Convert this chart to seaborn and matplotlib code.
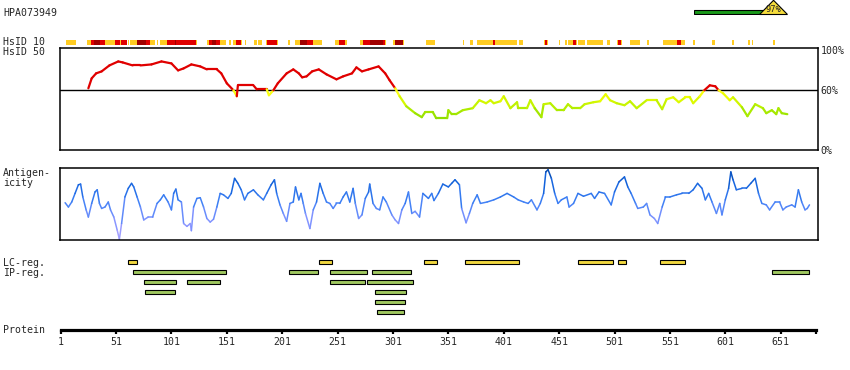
import matplotlib
matplotlib.use("Agg")
import matplotlib.pyplot as plt
import numpy as np
import seaborn as sns
from matplotlib.collections import LineCollection
from matplotlib.colors import LinearSegmentedColormap, Normalize

# ---- data ----
antibody = "HPA073949"
identity_label = "97%"
identity = 97
gauge_len = 84
protein_len = 683

# HsID 10 strip: (start, end, level) 0 = low, 1 = high, 2 = very high
hsid10_start = [6, 25, 28, 31, 36.5, 41, 50, 54.5, 55.5, 62, 63.5, 69.6, 78, 81.6, 88, 90.6, 97, 104, 105.5, 123,
                132.8, 134.6, 137.6, 141, 144.6, 153, 156.6, 159, 164, 167, 175.5, 179.5, 186.5, 187.5, 196.6,
                206.5, 212.5, 217, 223.6, 228.4, 248.6, 252, 257.7, 271.2, 274.2, 280.2, 292.2, 293.5, 301,
                302.5, 309.7, 331, 364, 370.5, 377, 391.5, 393, 415, 437.5, 438.5, 440, 451, 456, 459.3, 463.8,
                466, 468.3, 475.9, 494, 503, 504.5, 506.6, 515, 530.6, 545, 557, 560.7, 572, 588.6, 606.8,
                621.8, 624.8, 644.3]
hsid10_end = [15, 28, 31, 36.5, 41, 50, 54.5, 55.5, 60.5, 63, 69.6, 78, 81.6, 86, 89, 97, 104, 105.5, 123, 124,
              134.6, 137.6, 141, 144.6, 150, 155, 159, 163.8, 165, 168, 178.5, 182.5, 187.5, 196.6, 197.6,
              208, 217, 223.6, 228.4, 236.6, 252, 257.7, 259.8, 274.2, 280.2, 292.2, 293.5, 294.5, 302.5,
              309.7, 311, 339, 365.5, 373.5, 391.5, 393, 412.7, 418.7, 438.5, 440, 441, 452, 458, 463.8, 466,
              467, 474.4, 490.9, 497, 504.5, 506.6, 507.5, 524.4, 532.4, 557, 560.7, 564.6, 573.6, 592, 609,
              623, 626.3, 645.9]
hsid10_level = [0, 0, 1, 2, 1, 0, 1, 0, 1, 0, 0, 2, 1, 0, 0, 0, 1, 2, 1, 0,
                0, 1, 2, 1, 0, 0, 0, 1, 0, 0, 0, 0, 0, 1, 0,
                0, 0, 2, 1, 0, 0, 1, 0, 0, 1, 2, 1, 0, 0,
                2, 0, 0, 0, 0, 0, 1, 0, 0, 0, 1, 0, 0, 0, 0, 1,
                0, 0, 0, 0, 0, 1, 0, 0, 0, 0, 1, 0, 0, 0, 0,
                0, 0, 0]

# HsID 50 similarity (%)
sim_pos = [26, 29, 33, 38, 45, 53, 57, 66, 73, 83, 92, 101, 107, 112, 119, 127, 133, 142, 146, 151, 157, 160,
           161, 175, 178, 187, 189, 193, 197, 205, 211, 216, 219, 223, 228, 234, 241, 250, 256, 264, 268, 273,
           279, 288, 294, 298, 303, 307, 313, 321, 327, 330, 337, 340, 350, 351, 354, 358, 364, 373, 379, 385,
           389, 392, 398, 401, 407, 413, 414, 422, 425, 429, 435, 437, 443, 449, 455, 459, 463, 470, 474, 482,
           488, 493, 497, 503, 510, 515, 521, 530, 539, 544, 548, 554, 559, 565, 569, 572, 578, 582, 587, 592,
           595, 599, 605, 608, 616, 621, 628, 635, 638, 643, 647, 649, 652, 657]
sim_pct = [62, 72, 77, 79, 85, 89, 88, 85, 85, 86, 89, 87, 80, 82, 86, 84, 81, 81, 77, 67, 60, 54,
           65, 65, 61, 61, 55, 60, 67, 77, 81, 77, 73, 74, 79, 81, 76, 71, 74, 77, 83, 79,
           81, 84, 77, 70, 62, 54, 44, 37, 33, 38, 38, 32, 32, 40, 36, 36, 40, 42, 50, 47,
           50, 47, 49, 54, 42, 48, 42, 42, 50, 42, 33, 46, 47, 40, 40, 46, 42, 42, 46, 48,
           49, 56, 50, 47, 45, 49, 42, 50, 50, 41, 51, 53, 48, 53, 53, 47, 54, 60, 65, 64,
           60, 57, 50, 53, 43, 34, 46, 42, 37, 40, 36, 42, 37, 36]

# antigenicity (relative scale 0-100)
ag_pos = [5, 8, 11, 14, 17, 19, 21, 24, 26, 29, 32, 34, 36, 38, 41, 44, 46, 49, 52, 54, 56, 59, 62, 65, 67,
          70, 73, 76, 80, 84, 88, 91, 94, 98, 101, 103, 105, 107, 110, 112, 115, 118, 119, 121, 124, 127, 130,
          133, 136, 139, 142, 145, 148, 152, 155, 158, 161, 164, 167, 170, 175, 179, 184, 187, 191, 194, 196,
          199, 202, 205, 208, 211, 213, 216, 218, 220, 222, 226, 229, 232, 235, 238, 241, 244, 247, 250, 253,
          256, 259, 262, 265, 267, 270, 273, 276, 279, 280, 283, 286, 289, 292, 295, 300, 303, 306, 309, 312,
          315, 318, 321, 325, 328, 333, 336, 338, 342, 346, 351, 354, 357, 361, 363, 367, 370, 373, 377, 380,
          386, 392, 398, 404, 410, 414, 419, 423, 426, 431, 434, 437, 439, 441, 444, 447, 450, 453, 458, 460,
          464, 468, 473, 480, 483, 487, 492, 498, 501, 505, 510, 513, 516, 520, 522, 527, 530, 533, 537, 540,
          544, 547, 551, 557, 562, 568, 572, 576, 580, 583, 586, 589, 593, 596, 598, 601, 604, 606, 608, 611,
          616, 620, 624, 628, 631, 634, 638, 641, 646, 650, 653, 656, 661, 664, 667, 670, 673, 675, 677]
ag_val = [52, 46, 53, 65, 77, 78, 60, 42, 32, 51, 67, 70, 51, 44, 46, 53, 42, 32, 14, 1, 23, 60, 72, 79, 74,
          60, 46, 28, 32, 32, 51, 56, 63, 53, 42, 65, 71, 56, 53, 23, 19, 23, 13, 46, 58, 59, 46,
          30, 25, 29, 46, 65, 63, 58, 65, 86, 79, 70, 56, 65, 70, 63, 56, 65, 77, 84, 65,
          49, 37, 26, 51, 53, 74, 56, 65, 51, 37, 16, 42, 53, 79, 65, 53, 51, 44, 51, 51,
          60, 67, 53, 72, 51, 30, 35, 58, 67, 78, 51, 44, 42, 60, 53, 35, 28, 23, 42, 51,
          67, 37, 40, 32, 65, 58, 65, 55, 65, 78, 74, 79, 84, 77, 44, 24, 37, 51, 63, 51,
          53, 56, 60, 65, 60, 56, 53, 51, 56, 42, 51, 65, 95, 98, 86, 65, 51, 56, 60, 46,
          51, 65, 61, 65, 58, 67, 65, 49, 67, 81, 88, 74, 65, 51, 44, 46, 51, 35, 30, 23,
          46, 60, 60, 63, 65, 65, 70, 79, 72, 56, 65, 53, 37, 51, 35, 56, 72, 95, 84, 70,
          72, 72, 79, 86, 65, 51, 49, 42, 53, 53, 42, 46, 49, 46, 70, 53, 42, 44, 49]

# regions
lc_start = [62, 234, 329, 366, 468, 504, 542]
lc_end = [70, 246, 341, 415, 500, 511, 565]
ip_row = [1, 1, 1, 1, 1, 2, 2, 2, 2, 3, 3, 4, 5]
ip_start = [66, 207, 244, 282, 643, 76, 115, 244, 278, 77, 285, 285, 287]
ip_end = [150, 233, 278, 317, 677, 105, 145, 276, 319, 104, 313, 312, 311]

tick_pos = list(range(1, 652, 50))

# ---- drawing ----
W, H = 850, 370
XLIM = (0.4, 684.7)


def px_axes(fig, x0, y0, x1, y1):
    ax = fig.add_axes([x0 / W, 1 - y1 / H, (x1 - x0) / W, (y1 - y0) / H])
    ax.set_facecolor("none")
    return ax


sns.set_theme(style="white")
plt.rcParams["font.family"] = ["DejaVu Sans Mono"]
plt.rcParams["axes.linewidth"] = 1.1
fs = 7.1

fig = plt.figure(figsize=(W / 100, H / 100), dpi=100)

# header
fig.text(3 / W, 1 - 12.5 / H, antibody, fontsize=fs, va="center", ha="left")
gax = px_axes(fig, 694, 0, 776, 15)
gax.set_xlim(0, 100)
gax.set_ylim(15, 0)
gax.axis("off")
gax.barh(12, gauge_len, left=0, height=4.3, color="#1a9a1a", edgecolor="black", linewidth=0.8)
gax.fill([identity - 17, identity, identity + 17], [14.5, 0.3, 14.5], facecolor="#f5dc3c",
         edgecolor="black", linewidth=0.8, clip_on=False)
gax.text(identity, 9.3, identity_label, fontsize=6.3, ha="center", va="center")

# left labels
for txt, y in [("HsID 10", 42), ("HsID 50", 52), ("Antigen-", 172.5), ("icity", 183.5),
               ("LC-reg.", 263), ("IP-reg.", 273), ("Protein", 330)]:
    fig.text(3 / W, 1 - y / H, txt, fontsize=fs, va="center", ha="left")

# HsID 10 strip
level_colors = ["#ffcc22", "#e00000", "#a00000"]
sax = px_axes(fig, 60, 39.5, 818, 45)
sax.set_xlim(*XLIM)
sax.set_ylim(0, 1)
sax.axis("off")
for s, e, lv in zip(hsid10_start, hsid10_end, hsid10_level):
    sax.barh(0.5, e - s, left=s, height=1, color=level_colors[lv], linewidth=0)

# HsID 50 panel
ax1 = px_axes(fig, 60, 48, 818, 150)
ax1.set_xlim(*XLIM)
ax1.set_ylim(0, 102.5)
ax1.axhline(60, color="black", lw=1.0)
sim_cmap = LinearSegmentedColormap.from_list("sim", [(0, "#88dc00"), (0.45, "#b8f000"), (0.8, "#f0ff00"),
                                                     (1, "#ffff20")])
sim_norm = Normalize(30, 60)
sx = np.array(sim_pos, float)
sy = np.array(sim_pct, float)
pts = np.column_stack([sx, sy])
segs = np.stack([pts[:-1], pts[1:]], axis=1)
mid = (sy[:-1] + sy[1:]) / 2
cols = ["#e00000" if m >= 59 else sim_cmap(sim_norm(m)) for m in mid]
ax1.add_collection(LineCollection(segs, colors=cols, linewidths=1.6, capstyle="round", joinstyle="round"))
ax1.set_xticks([])
ax1.yaxis.tick_right()
ax1.set_yticks([0, 60, 100])
ax1.set_yticklabels(["0%", "60%", "100%"])
ax1.tick_params(axis="y", length=0, pad=2, labelsize=fs)
for sp in ax1.spines.values():
    sp.set_color("black")

# antigenicity panel
ax2 = px_axes(fig, 60, 168.3, 818, 240)
ax2.set_xlim(*XLIM)
ax2.set_ylim(0, 100)
ag_cmap = LinearSegmentedColormap.from_list("ag", [(0, "#b0a4ff"), (0.3, "#7d92ff"), (0.55, "#3d80f5"),
                                                   (0.8, "#1262dc"), (1, "#0444a4")])
ax_ = np.array(ag_pos, float)
ay_ = np.array(ag_val, float)
pts = np.column_stack([ax_, ay_])
segs = np.stack([pts[:-1], pts[1:]], axis=1)
mid = (ay_[:-1] + ay_[1:]) / 2
ax2.add_collection(LineCollection(segs, colors=ag_cmap(mid / 100), linewidths=1.1,
                                  capstyle="round", joinstyle="round"))
ax2.set_xticks([])
ax2.set_yticks([])
for sp in ax2.spines.values():
    sp.set_color("black")

# regions
ax3 = px_axes(fig, 60, 257, 818, 317)
ax3.set_xlim(*XLIM)
ax3.set_ylim(5.5, -0.5)
ax3.axis("off")
for s, e in zip(lc_start, lc_end):
    ax3.barh(0, e - s, left=s, height=0.42, color="#f2d840", edgecolor="black", linewidth=0.8)
for r, s, e in zip(ip_row, ip_start, ip_end):
    ax3.barh(r, e - s, left=s, height=0.42, color="#a0c860", edgecolor="black", linewidth=0.8)

# protein axis
ax4 = px_axes(fig, 60, 318, 818, 329.5)
ax4.set_xlim(*XLIM)
for k in ["top", "left", "right"]:
    ax4.spines[k].set_visible(False)
ax4.spines["bottom"].set_linewidth(2.3)
ax4.spines["bottom"].set_color("black")
ax4.spines["bottom"].set_bounds(1, protein_len)
ax4.set_yticks([])
ax4.set_xticks(tick_pos + [protein_len])
ax4.set_xticklabels([str(t) for t in tick_pos] + [""])
ax4.tick_params(axis="x", bottom=True, length=2.6, width=1.6, color="black", direction="out",
                pad=3, labelsize=fs)

fig.savefig("out.png", dpi=100)
